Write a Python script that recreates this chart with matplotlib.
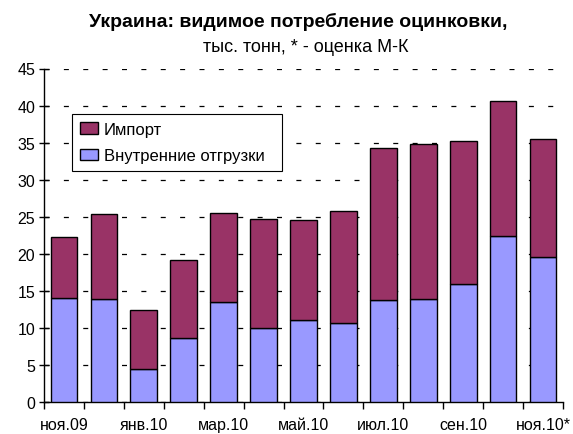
import numpy as np
import matplotlib as mpl
mpl.use('Agg')
import matplotlib.pyplot as plt
import matplotlib.patches as mpatches
from matplotlib.legend_handler import HandlerPatch

plt.rcParams['font.family'] = ['Liberation Sans', 'DejaVu Sans']

# months, Nov 2009 .. Nov 2010 (last one is an estimate)
months = ['ноя.09', 'дек.09', 'янв.10', 'фев.10', 'мар.10', 'апр.10', 'май.10',
          'июн.10', 'июл.10', 'авг.10', 'сен.10', 'окт.10', 'ноя.10*']
domestic = [14.1, 13.9, 4.4, 8.6, 13.45, 10.0, 11.1, 10.65, 13.7, 13.9, 15.9, 22.35, 19.5]
total = [22.2, 25.4, 12.45, 19.15, 25.55, 24.75, 24.6, 25.8, 34.25, 34.85, 35.15, 40.55, 35.45]
imports = [t - d for t, d in zip(total, domestic)]

c_imp = '#993366'
c_dom = '#9999FF'

fig = plt.figure(figsize=(5.73, 4.35), dpi=100)
ax = fig.add_axes([44/573, 1-403/435, (563-44)/573, (403-69.5)/435])

x = np.arange(len(months))
ax.bar(x, domestic, width=0.67, color=c_dom, edgecolor='black', linewidth=1.0,
       label='Внутренние отгрузки', zorder=3)
ax.bar(x, imports, width=0.67, bottom=domestic, color=c_imp, edgecolor='black',
       linewidth=1.0, label='Импорт', zorder=3)

ax.set_ylim(0, 45)
ax.set_xlim(-0.5, len(months) - 0.5)
ax.set_yticks(np.arange(0, 46, 5))
ax.yaxis.grid(True, color='black', linestyle=(0, (4, 11.5)), linewidth=0.9, zorder=0)
ax.set_axisbelow(True)

# labels on every other month, tick marks between categories
ax.set_xticks(x[::2])
ax.set_xticklabels(months[::2], fontsize=11.5)
ax.tick_params(axis='x', which='major', length=0, pad=11)
ax.set_xticks(np.arange(-0.5, len(months), 1.0), minor=True)
ax.tick_params(axis='x', which='minor', length=5, direction='out', width=1)
ax.tick_params(axis='y', labelsize=11.5, length=6.5, direction='inout', width=1, pad=3)

for s in ['top', 'right']:
    ax.spines[s].set_visible(False)
for s in ['left', 'bottom']:
    ax.spines[s].set_linewidth(1.0)
    ax.spines[s].set_color('black')


def square(legend, orig_handle, xdescent, ydescent, width, height, fontsize):
    sq = 6.5
    return mpatches.Rectangle((-xdescent + width - sq, -ydescent + (height - sq) / 2), sq, sq)


h, l = ax.get_legend_handles_labels()
lgd = ax.legend(h[::-1], l[::-1], loc='upper left', mode='expand',
                bbox_to_anchor=(72/573, 1-175/435, 210/573, 60/435),
                bbox_transform=fig.transFigure,
                handler_map={mpl.patches.Rectangle: HandlerPatch(patch_func=square)},
                fontsize=12, fancybox=False, framealpha=1, edgecolor='black',
                handlelength=1.08, handleheight=0.7, handletextpad=0.36,
                borderpad=0.45, labelspacing=0.7, borderaxespad=0)
lgd.get_frame().set_linewidth(0.8)
lgd.set_zorder(5)

fig.text(298/573, 1-22/435, 'Украина: видимое потребление оцинковки,',
         ha='center', va='center', fontsize=14, fontweight='bold')
fig.text(306/573, 1-47/435, 'тыс. тонн, * - оценка М-К',
         ha='center', va='center', fontsize=13)

fig.savefig('out.png', dpi=100)
